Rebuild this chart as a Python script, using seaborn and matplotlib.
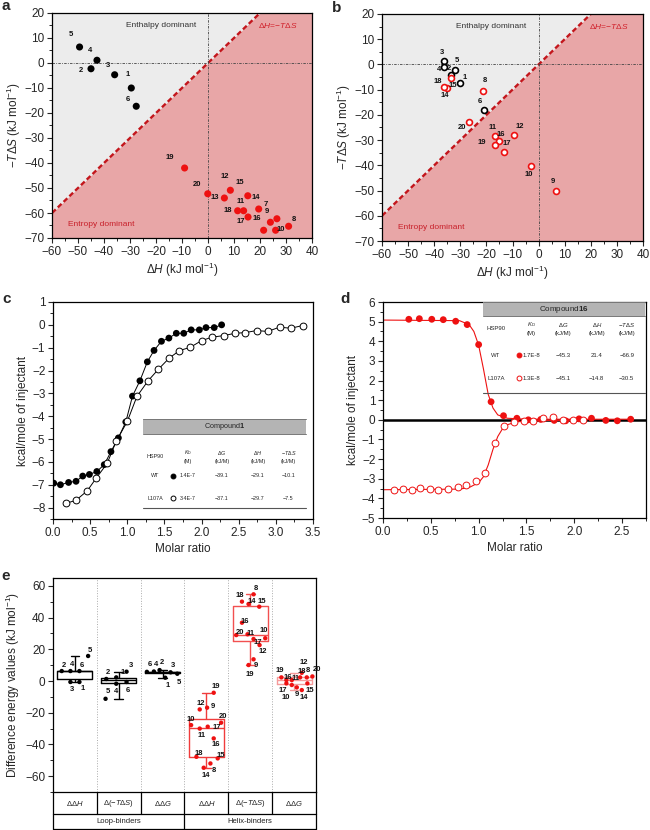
import numpy as np
import pandas as pd
import seaborn as sns
import matplotlib.pyplot as plt
from matplotlib.patches import Rectangle
from matplotlib.lines import Line2D
from matplotlib.ticker import MultipleLocator

sns.set_style("ticks")
plt.rcParams["font.family"] = ["Liberation Sans", "DejaVu Sans"]
plt.rcParams["mathtext.fontset"] = "custom"
plt.rcParams["mathtext.rm"] = "Liberation Sans"
plt.rcParams["mathtext.it"] = "Liberation Sans:italic"
plt.rcParams["mathtext.bf"] = "Liberation Sans:bold"

# ---------------------------------------------------------
# Data: panel a (WT) and b (L107A), dH vs -TdS in kJ/mol
# ---------------------------------------------------------
a_loop_ids = [1, 2, 3, 4, 5, 6]
a_loop_dH = [-29.5, -45.0, -35.9, -42.7, -49.4, -27.6]
a_loop_TdS = [-10.0, -2.3, -4.7, 1.1, 6.4, -17.3]
a_helix_ids = [7, 8, 9, 10, 11, 12, 13, 14, 15, 16, 17, 18, 19, 20]
a_helix_dH = [26.5, 31.0, 19.5, 26.0, 13.7, 8.6, 6.3, 24.0, 15.3, 21.4, 15.4, 11.4, -9.0, -0.1]
a_helix_TdS = [-62.3, -65.3, -58.4, -66.9, -59.1, -50.9, -54.0, -63.7, -53.1, -66.9, -61.6, -59.1, -42.0, -52.3]

b_loop_ids = [1, 2, 3, 4, 5, 6]
b_loop_dH = [-30.1, -33.5, -36.2, -36.2, -32.0, -20.9]
b_loop_TdS = [-7.3, -4.0, 1.3, -0.9, -2.2, -18.1]
b_helix_ids = [8, 9, 10, 11, 12, 14, 15, 16, 17, 18, 19, 20]
b_helix_dH = [-21.4, 6.6, -3.1, -16.6, -9.4, -35.2, -33.5, -15.2, -13.2, -36.4, -16.6, -26.6]
b_helix_TdS = [-10.4, -50.1, -40.4, -28.4, -27.8, -9.5, -5.5, -30.4, -34.9, -9.1, -32.0, -22.9]

# ---------------------------------------------------------
# Data: panel c (compound 1) and d (compound 16) ITC isotherms
# ---------------------------------------------------------
c_wt_ratio = [0.01, 0.10, 0.21, 0.31, 0.40, 0.49, 0.59, 0.69, 0.78, 0.88, 0.98, 1.07,
              1.17, 1.27, 1.36, 1.46, 1.56, 1.66, 1.76, 1.86, 1.97, 2.06, 2.17, 2.27]
c_wt_heat = [-6.93, -7.00, -6.90, -6.85, -6.62, -6.55, -6.42, -6.12, -5.55, -4.95, -4.25, -3.12,
             -2.45, -1.62, -1.12, -0.72, -0.58, -0.37, -0.37, -0.22, -0.22, -0.12, -0.12, 0.00]
c_mut_ratio = [0.18, 0.31, 0.46, 0.58, 0.73, 0.85, 1.00, 1.13, 1.28, 1.42, 1.56, 1.70,
               1.85, 2.00, 2.14, 2.30, 2.45, 2.59, 2.74, 2.89, 3.05, 3.20, 3.36]
c_mut_heat = [-7.81, -7.68, -7.27, -6.72, -6.06, -5.10, -4.23, -3.13, -2.45, -1.94, -1.47, -1.13,
              -0.98, -0.69, -0.54, -0.47, -0.37, -0.34, -0.25, -0.29, -0.10, -0.15, -0.03]

d_wt_ratio = [0.27, 0.38, 0.51, 0.63, 0.76, 0.88, 1.00, 1.13, 1.26, 1.40, 1.52, 1.65,
              1.79, 1.91, 2.05, 2.18, 2.33, 2.45, 2.59]
d_wt_heat = [5.12, 5.15, 5.12, 5.10, 5.02, 4.85, 3.83, 0.92, 0.21, 0.08, 0.00, 0.02,
             -0.03, -0.05, 0.05, 0.08, -0.03, -0.05, 0.03]
d_mut_ratio = [0.11, 0.21, 0.30, 0.39, 0.49, 0.58, 0.68, 0.78, 0.87, 0.97, 1.07, 1.17,
               1.27, 1.37, 1.47, 1.57, 1.67, 1.78, 1.88, 1.99, 2.09]
d_mut_heat = [-3.56, -3.53, -3.56, -3.48, -3.51, -3.59, -3.53, -3.42, -3.31, -3.10, -2.71, -1.19,
              -0.31, -0.09, -0.04, -0.04, 0.08, 0.13, -0.01, -0.01, -0.01]
# fitted curves
d_wt_fit_x = [0.0, 0.80, 0.90, 0.95, 1.00, 1.05, 1.10, 1.15, 1.20, 1.30, 1.50, 2.60]
d_wt_fit_y = [5.08, 5.05, 4.85, 4.50, 3.80, 2.60, 1.30, 0.60, 0.25, 0.08, 0.03, 0.03]
d_mut_fit_x = [0.0, 0.80, 0.90, 1.00, 1.05, 1.10, 1.15, 1.20, 1.25, 1.30, 1.40, 1.60, 2.10]
d_mut_fit_y = [-3.56, -3.53, -3.45, -3.20, -2.90, -2.30, -1.50, -0.85, -0.45, -0.25, -0.10, -0.04, -0.02]

c_table = [["WT", "1.4E-7", "\u221239.1", "\u221229.1", "\u221210.1"],
           ["L107A", "3.4E-7", "\u221237.1", "\u221229.7", "\u22127.5"]]
d_table = [["WT", "1.7E-8", "\u221245.3", "21.4", "\u221266.9"],
           ["L107A", "1.3E-8", "\u221245.1", "\u221214.8", "\u221230.5"]]

# ---------------------------------------------------------
# Data: panel e, differences L107A - WT (kJ/mol)
# ---------------------------------------------------------
e_loop_ids = [1, 2, 3, 4, 5, 6]
e_loop_ddH = [-0.6, 6.3, -0.6, 6.3, 15.8, 6.3]
e_loop_dTdS = [2.3, 1.3, 5.9, -1.7, -11.2, -0.6]
e_loop_ddG = [2.1, 6.9, 5.5, 6.0, 4.6, 5.8]
e_helix_ids = [8, 9, 10, 11, 12, 14, 15, 16, 17, 18, 19, 20]
e_helix_ddH = [-52.0, -16.8, -27.8, -30.0, -17.9, -54.7, -48.8, -36.2, -28.8, -47.8, -7.4, -26.3]
e_helix_dTdS = [54.7, 13.7, 27.0, 29.5, 22.7, 48.6, 46.9, 36.8, 26.5, 50.1, 10.1, 29.0]
e_helix_ddG = [2.3, -4.0, -2.5, 0.6, 5.2, -5.7, -1.5, 0.6, -1.5, 2.3, 2.3, 2.9]

e_groups = ["L_dH", "L_dTS", "L_dG", "H_dH", "H_dTS", "H_dG"]
e_group_text = ["\u0394\u0394$\\mathit{H}$", "\u0394(\u2212$\\mathit{T}$\u0394$\\mathit{S}$)",
                "\u0394\u0394$\\mathit{G}$"] * 2
e_binder_text = ["Loop-binders", "Helix-binders"]

# ---------------------------------------------------------
# Layout: label offsets (pixels) and point jitter (pixels)
# ---------------------------------------------------------
a_loop_lab = [(-3.7, 13.3), (-9.7, -1.7), (-6.7, 9.3), (-6.7, 10), (-8.7, 12.3), (-8.7, 6.7)]
a_helix_lab = [(-11, 14.5), (5, 6.7), (8.3, -2.3), (5.3, 0.7), (-3.3, 9.3), (-6, 14), (-9.7, 0.7),
               (-15, 24.3), (-8.3, 13.3), (-6.7, 11.7), (-7.7, -4.3), (-9.7, 0), (-15, 10), (-10.7, 9)]
b_loop_lab = [(4.3, 5.3), (-2, 5.7), (-2.3, 8.7), (-5, -2.7), (1.7, 9.3), (-3.7, 8.3)]
b_helix_lab = [(2.3, 9.7), (-2.7, 9), (-1.7, -8), (-3, 8.3), (5.3, 7.7), (-2.3, -6.7), (1.3, -6.7),
               (2, 6.7), (2.7, 9), (-5.7, 6.3), (-13.7, 2.7), (-7.3, -5.7)]

e_jitter = {
    "L_dH": [4.5, -13.2, -4.5, -4.5, 13.2, 4.5],
    "L_dTS": [-2.5, -12.5, 7.8, -2.5, -13.2, 7.8],
    "L_dG": [2.7, -3, 8, -8.7, 14.7, -15.7],
    "H_dH": [4, 0.7, -15.3, -6.7, -6.7, -2.7, 11.3, 7.3, 1.3, -10, 7.3, 14.7],
    "H_dTS": [3.3, 3.3, 15, -2.7, 9.3, -1.7, 9, -8.3, 3.3, -8.3, -1.7, -14],
    "H_dG": [12.7, 2.7, -2.3, -2.3, 7.7, 7.7, 13.3, -7.7, -7.7, 6, -12.7, 18.3],
}
e_lab = {
    "L_dH": [(3.3, -7), (1.7, 6), (1.7, -8), (1.7, 7), (2, 5), (2.7, 6)],
    "L_dTS": [(6, 5), (2, 6.7), (4, 6), (0, -8), (2, 7), (1.7, -8.7)],
    "L_dG": [(2.7, -8), (2.7, 7.3), (2.3, 6.7), (1.7, 6.7), (1.7, -8.7), (2.7, 7.3)],
    "H_dH": [(3.3, -6.7), (5.7, 1), (0, 6), (1.7, -7.3), (0.7, 6), (1.7, -7.3), (2.7, 3.3),
             (1.7, -5.7), (8.7, -1), (2.3, 3.3), (1.7, 6), (2, 6.7)],
    "H_dTS": [(2.7, 6), (2.7, -5.7), (-1.7, 7.7), (2.7, 1), (3.3, -6.7), (3.3, 2.3), (2.7, 5),
              (3.3, 1), (4, -3.3), (-1.7, 5.7), (1.7, -9.3), (4, 2.7)],
    "H_dG": [(1.5, 6.7), (0, -6.7), (-5.5, -12.5), (4, 1.7), (2, 10.5), (1.7, -7.3), (2.7, -6.7),
             (1.5, 3), (-3.5, -6.7), (1.5, 5.5), (-1.5, 6.7), (5, 6.7)],
}

RED = "#ee1111"
PINK = "#e8a6a7"
GREY_BG = "#ececec"
DARKRED = "#c3161c"
W, H = 650, 830


def fig_rect(x0, y0, x1, y1):
    return [x0 / W, 1 - y1 / H, (x1 - x0) / W, (y1 - y0) / H]


def fpos(x, y):
    return x / W, 1 - y / H


def style_axes(ax):
    ax.tick_params(which="major", direction="out", length=3.5, width=0.8, labelsize=8.5, pad=2)
    ax.tick_params(which="minor", direction="out", length=2, width=0.7)
    for sp in ax.spines.values():
        sp.set_visible(True)
        sp.set_linewidth(0.9)
        sp.set_color("black")


def label_points(ax, ids, xs, ys, offs, size=5.5):
    for cid, x, y, (dx, dy) in zip(ids, xs, ys, offs):
        ax.annotate(str(cid), (x, y), xytext=(dx, dy), textcoords="offset pixels",
                    ha="center", va="center", fontsize=size, fontweight="bold", color="#111111")


fig = plt.figure(figsize=(6.5, 8.3), dpi=100)
ax_a = fig.add_axes(fig_rect(52, 13, 312, 238))
ax_b = fig.add_axes(fig_rect(382, 14, 643, 241))
ax_c = fig.add_axes(fig_rect(53, 302, 313, 519))
ax_d = fig.add_axes(fig_rect(383, 302, 646, 518))
ax_e = fig.add_axes(fig_rect(53, 578, 316, 792))
ax_t = fig.add_axes(fig_rect(53, 792, 316, 830))

# ---------------------------------------------------------
# Panels a, b: enthalpy / entropy maps
# ---------------------------------------------------------
for ax in (ax_a, ax_b):
    ax.set_xlim(-60, 40)
    ax.set_ylim(-70, 20)
    xs = np.array(ax.get_xlim())
    ax.fill_between(xs, xs, 20, color=GREY_BG, zorder=0, lw=0)
    ax.fill_between(xs, -70, xs, color=PINK, zorder=0, lw=0)
    ax.axline((0, 0), slope=1, color=DARKRED, ls=(0, (2.2, 1.2)), lw=1.7, zorder=1)
    ax.axhline(0, color="#444444", lw=0.6, ls=(0, (3, 1.5, 1, 1.5)), zorder=1)
    ax.axvline(0, color="#444444", lw=0.6, ls=(0, (3, 1.5, 1, 1.5)), zorder=1)
    ax.text(-18, 15, "Enthalpy dominant", fontsize=6, color="#333333", ha="center", va="center")
    ax.text(27, 15, "\u0394$\\mathit{H}$=\u2212$\\mathit{T}$\u0394$\\mathit{S}$", fontsize=6,
            color="#d0202a", ha="center", va="center")
    ax.text(-41, -64.8, "Entropy dominant", fontsize=6, color="#c8202a", ha="center", va="center")
    ax.xaxis.set_major_locator(MultipleLocator(10))
    ax.xaxis.set_minor_locator(MultipleLocator(5))
    ax.yaxis.set_major_locator(MultipleLocator(10))
    ax.yaxis.set_minor_locator(MultipleLocator(5))
    ax.set_xlabel("\u0394$\\mathit{H}$ (kJ mol$^{-1}$)", fontsize=8.5, labelpad=2)
    ax.set_ylabel("\u2212$\\mathit{T}$\u0394$\\mathit{S}$ (kJ mol$^{-1}$)", fontsize=8.5, labelpad=1)
    style_axes(ax)

sns.scatterplot(x=a_loop_dH, y=a_loop_TdS, color="black", s=26, edgecolor="none", ax=ax_a, zorder=3)
sns.scatterplot(x=a_helix_dH, y=a_helix_TdS, color=RED, s=26, edgecolor="none", ax=ax_a, zorder=3)
label_points(ax_a, a_loop_ids, a_loop_dH, a_loop_TdS, a_loop_lab)
label_points(ax_a, a_helix_ids, a_helix_dH, a_helix_TdS, a_helix_lab)

sns.scatterplot(x=b_loop_dH, y=b_loop_TdS, color="white", edgecolor="black", linewidth=1.2,
                s=18, ax=ax_b, zorder=3)
sns.scatterplot(x=b_helix_dH, y=b_helix_TdS, color="white", edgecolor=RED, linewidth=1.2,
                s=18, ax=ax_b, zorder=3)
label_points(ax_b, b_loop_ids, b_loop_dH, b_loop_TdS, b_loop_lab)
label_points(ax_b, b_helix_ids, b_helix_dH, b_helix_TdS, b_helix_lab)

# ---------------------------------------------------------
# Panel c: compound 1 isotherms
# ---------------------------------------------------------
sns.lineplot(x=c_wt_ratio, y=c_wt_heat, color="black", lw=0.7, ax=ax_c, zorder=2)
sns.lineplot(x=c_mut_ratio, y=c_mut_heat, color="black", lw=0.7, ax=ax_c, zorder=2)
sns.scatterplot(x=c_wt_ratio, y=c_wt_heat, color="black", s=24, edgecolor="none", ax=ax_c, zorder=3)
sns.scatterplot(x=c_mut_ratio, y=c_mut_heat, color="white", edgecolor="black", linewidth=0.7,
                s=24, ax=ax_c, zorder=3)
ax_c.set_xlim(0, 3.5)
ax_c.set_ylim(-8.5, 1)
ax_c.xaxis.set_major_locator(MultipleLocator(0.5))
ax_c.xaxis.set_minor_locator(MultipleLocator(0.25))
ax_c.yaxis.set_major_locator(MultipleLocator(1))
ax_c.yaxis.set_minor_locator(MultipleLocator(0.5))
ax_c.set_xlabel("Molar ratio", fontsize=8.5, labelpad=3)
ax_c.set_ylabel("kcal/mole of injectant", fontsize=8.5, labelpad=2)
style_axes(ax_c)

# ---------------------------------------------------------
# Panel d: compound 16 isotherms
# ---------------------------------------------------------
ax_d.axhline(0, color="black", lw=1.8, zorder=1)
sns.lineplot(x=d_wt_fit_x, y=d_wt_fit_y, color=RED, lw=0.8, ax=ax_d, zorder=2)
sns.lineplot(x=d_mut_fit_x, y=d_mut_fit_y, color=RED, lw=0.8, ax=ax_d, zorder=2)
sns.scatterplot(x=d_wt_ratio, y=d_wt_heat, color=RED, s=24, edgecolor="none", ax=ax_d, zorder=3)
sns.scatterplot(x=d_mut_ratio, y=d_mut_heat, color="white", edgecolor=RED, linewidth=0.7,
                s=24, ax=ax_d, zorder=3)
ax_d.set_xlim(0, 2.75)
ax_d.set_ylim(-5, 6)
ax_d.xaxis.set_major_locator(MultipleLocator(0.5))
ax_d.xaxis.set_minor_locator(MultipleLocator(0.25))
ax_d.yaxis.set_major_locator(MultipleLocator(1))
ax_d.yaxis.set_minor_locator(MultipleLocator(0.5))
ax_d.set_xlabel("Molar ratio", fontsize=8.5, labelpad=3)
ax_d.set_ylabel("kcal/mole of injectant", fontsize=8.5, labelpad=2)
style_axes(ax_d)

# ---------------------------------------------------------
# Tables inside c and d (figure pixel coordinates)
# ---------------------------------------------------------
col_heads = ["$\\mathit{K}_\\mathrm{D}$\n(M)", "\u0394$\\mathit{G}$\n(kJ/M)",
             "\u0394$\\mathit{H}$\n(kJ/M)", "\u2212$\\mathit{T}$\u0394$\\mathit{S}$\n(kJ/M)"]


def draw_table(title, rows, x0, x1, y_hdr, y_cols, y_rows, col_x, name_x, mark_x,
               y_bottom, marker_colors, hsize, bsize):
    fig.add_artist(Rectangle(fpos(x0, y_hdr[1]), (x1 - x0) / W, (y_hdr[1] - y_hdr[0]) / H,
                             transform=fig.transFigure, facecolor="#b4b4b4", edgecolor="none"))
    for yy in y_hdr:
        fig.add_artist(Line2D([x0 / W, x1 / W], [1 - yy / H] * 2, transform=fig.transFigure,
                              color="#777777", lw=0.7))
    fig.text(*fpos((x0 + x1) / 2, (y_hdr[0] + y_hdr[1]) / 2), title, fontsize=hsize,
             ha="center", va="center")
    fig.text(*fpos(name_x, y_cols), "HSP90", fontsize=bsize, ha="center", va="center")
    for cx, head in zip(col_x, col_heads):
        fig.text(*fpos(cx, y_cols), head, fontsize=bsize, ha="center", va="center",
                 linespacing=1.5, color="#222222")
    for (row, yy, (fc, ec)) in zip(rows, y_rows, marker_colors):
        fig.text(*fpos(name_x, yy), row[0], fontsize=bsize, ha="center", va="center")
        fig.add_artist(Line2D([mark_x / W], [1 - yy / H], transform=fig.transFigure, marker="o",
                              markersize=3.5, markerfacecolor=fc, markeredgecolor=ec,
                              markeredgewidth=0.7, lw=0))
        for cx, val in zip(col_x, row[1:]):
            fig.text(*fpos(cx, yy), val, fontsize=bsize, ha="center", va="center")
    fig.add_artist(Line2D([x0 / W, x1 / W], [1 - y_bottom / H] * 2, transform=fig.transFigure,
                          color="#555555", lw=0.8))


draw_table("Compound$\\mathbf{1}$", c_table, 143, 306, (419, 434), 456.5, (475.7, 498.3),
           (188, 222, 258, 288.5), 155.5, 173.3, 508.3,
           [("black", "black"), ("white", "black")], 5.2, 3.9)
draw_table("Compound$\\mathbf{16}$", d_table, 483, 645, (302, 316.5), 328, (355, 378.3),
           (531.5, 563.3, 596.7, 626.7), 496, 519, 393.3,
           [(RED, RED), ("white", RED)], 5.8, 4.3)

# ---------------------------------------------------------
# Panel e: boxplots of the differences
# ---------------------------------------------------------
e_values = {"L_dH": e_loop_ddH, "L_dTS": e_loop_dTdS, "L_dG": e_loop_ddG,
            "H_dH": e_helix_ddH, "H_dTS": e_helix_dTdS, "H_dG": e_helix_ddG}
col_px = 263 / 6
rows = []
for gi, g in enumerate(e_groups):
    ids = e_loop_ids if g.startswith("L") else e_helix_ids
    for k, cid in enumerate(ids):
        rows.append({"group": g, "binder": g[0], "id": cid, "value": e_values[g][k],
                     "xpos": gi + e_jitter[g][k] / col_px, "dx": e_lab[g][k][0],
                     "dy": e_lab[g][k][1]})
e_df = pd.DataFrame(rows)

box_colors = {"L_dH": "black", "L_dTS": "black", "L_dG": "black",
              "H_dH": "#f03c3c", "H_dTS": "#f25050", "H_dG": "#f59a9a"}
sns.boxplot(data=e_df, x="group", y="value", hue="group", order=e_groups, hue_order=e_groups,
            palette=box_colors, fill=False, whis=(0, 100), showfliers=False, width=0.8,
            linewidth=1.0, legend=False, capwidths=0.2, ax=ax_e)
sns.scatterplot(data=e_df, x="xpos", y="value", hue="binder", palette={"L": "black", "H": RED},
                s=10, edgecolor="none", legend=False, ax=ax_e, zorder=3)
for _, r in e_df.iterrows():
    ax_e.annotate(str(r["id"]), (r["xpos"], r["value"]), xytext=(r["dx"], r["dy"]),
                  textcoords="offset pixels", ha="center", va="center", fontsize=5.5,
                  fontweight="bold", color="#111111")
for xb in np.arange(0.5, 5, 1):
    ax_e.axvline(xb, color="#aaaaaa", ls=":", lw=0.7, zorder=0)
ax_e.set_xlim(-0.5, 5.5)
ax_e.set_ylim(-70, 65)
ax_e.set_xticks([])
ax_e.set_xlabel("")
ax_e.yaxis.set_major_locator(MultipleLocator(20))
ax_e.yaxis.set_minor_locator(MultipleLocator(10))
ax_e.set_ylabel("Difference energy values (kJ mol$^{-1}$)", fontsize=8.5, labelpad=2)
style_axes(ax_e)

# category table under panel e
ax_t.set_xlim(-0.5, 5.5)
ax_t.set_ylim(0, 38)
ax_t.axis("off")
line_kw = dict(color="black", lw=0.9, clip_on=False)
ax_t.plot([-0.5, 5.5], [16, 16], **line_kw)
ax_t.plot([-0.5, 5.5], [1, 1], **line_kw)
for xb in np.arange(-0.5, 6, 1):
    ax_t.plot([xb, xb], [16, 38], **line_kw)
for xb in (-0.5, 2.5, 5.5):
    ax_t.plot([xb, xb], [1, 16], **line_kw)
for gi, txt in enumerate(e_group_text):
    ax_t.text(gi, 27, txt, fontsize=5.5, ha="center", va="center", color="#222222")
for bi, txt in enumerate(e_binder_text):
    ax_t.text(1 + 3 * bi, 8.5, txt, fontsize=5.5, ha="center", va="center", color="#222222")

# panel letters
for letter, (px, py) in zip("abcde", [(2, 10), (332, 12), (2, 303), (340, 303), (1, 580)]):
    fig.text(*fpos(px, py), letter, fontsize=11, fontweight="bold", ha="left", va="baseline")

fig.savefig("out.png", dpi=100)
